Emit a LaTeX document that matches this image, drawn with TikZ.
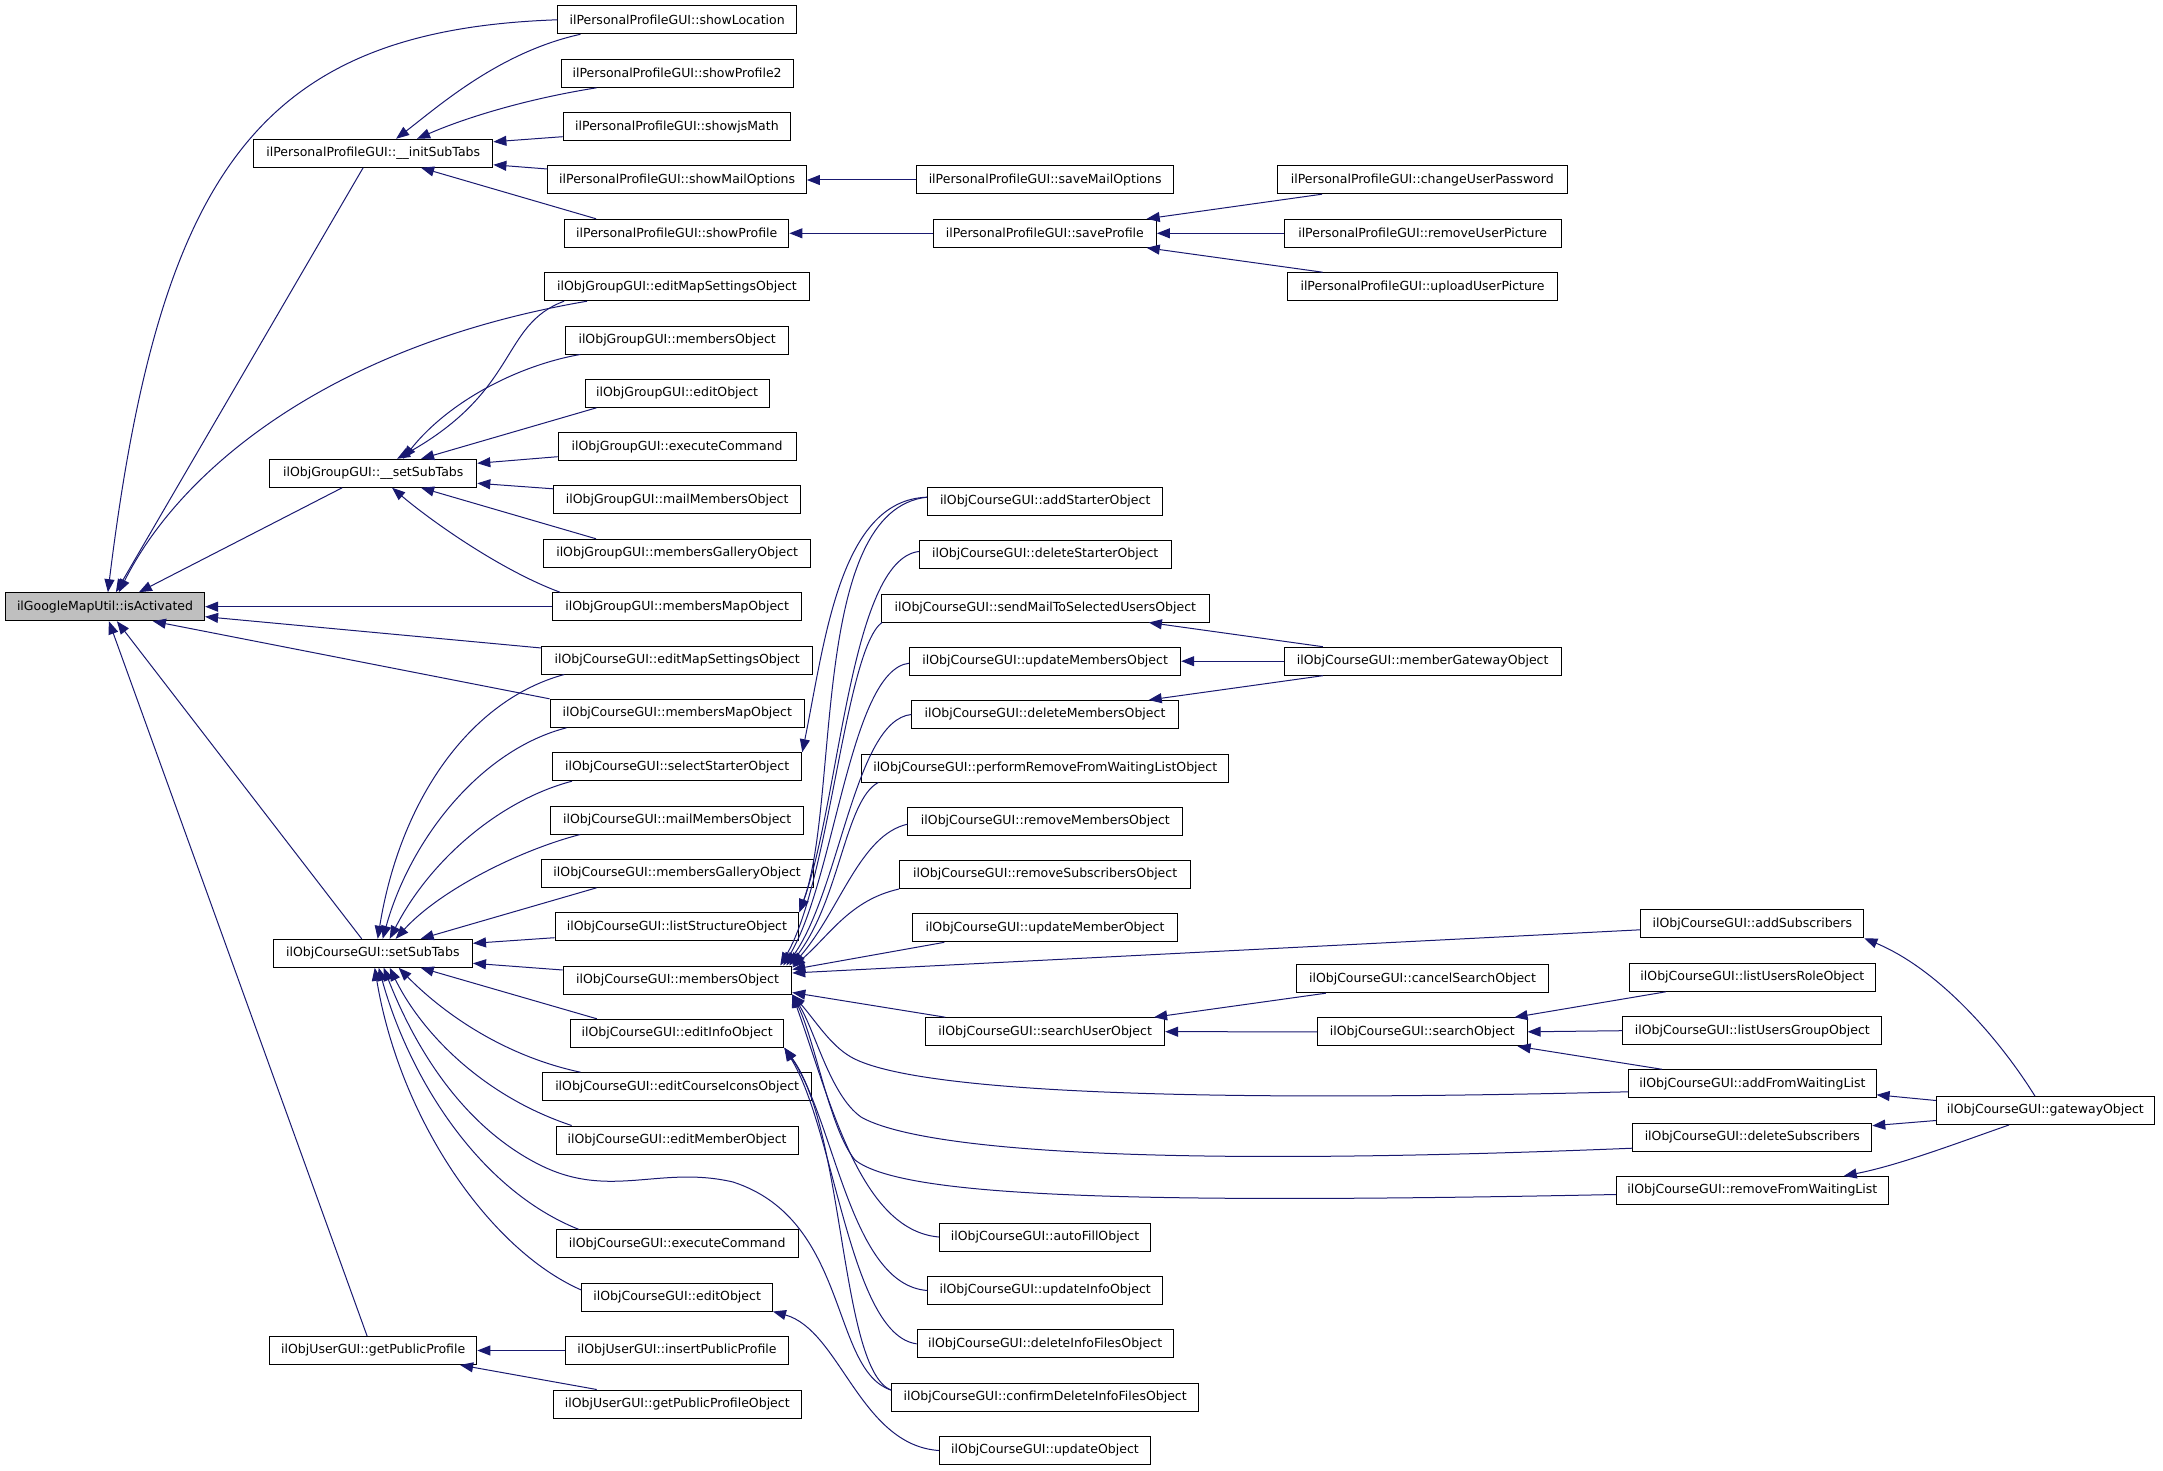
\documentclass[tikz,border=0pt]{standalone}
\usepackage{fontspec}
\setmainfont{DejaVu Sans}
\usepackage{tikz}
\usetikzlibrary{arrows.meta}
\definecolor{border}{HTML}{000000}
\definecolor{edgeblue}{HTML}{191970}
\definecolor{rootgray}{HTML}{BFBFBF}
\newcommand{\Func}[5]{%
  \node[func, minimum width={#3pt-#2pt}] (#1) at ({(#2+#3)/2},#4) {#5};
}

\begin{document}
\begin{tikzpicture}[x=1pt, y=-1pt,
  func/.style={draw=border, line width=1pt, fill=white, minimum height=28pt,
    inner sep=0pt, font=\fontsize{12.5}{15}\selectfont},
  call/.style={edgeblue, line width=1pt, -{Triangle[length=13pt, width=10pt]}}]
  \useasboundingbox (0,0) rectangle (2163,1471);

  % root
  \node[func, fill=rootgray, minimum width=199.2pt] (isAct) at (105,606.7) {ilGoogleMapUtil::isActivated};

  % second column
  \Func{initTabs}{253.6}{492.9}{153.3}{ilPersonalProfileGUI::\_\_initSubTabs}
  \Func{gTabs}{269.6}{476.8}{473.3}{ilObjGroupGUI::\_\_setSubTabs}
  \Func{cTabs}{273.2}{472.5}{953.3}{ilObjCourseGUI::setSubTabs}
  \Func{pubProf}{269.6}{476.8}{1350.5}{ilObjUserGUI::getPublicProfile}

  % third column
  \Func{showLoc}{557.9}{796.4}{19.8}{ilPersonalProfileGUI::showLocation}
  \Func{showProf2}{561.1}{793.2}{73.3}{ilPersonalProfileGUI::showProfile2}
  \Func{showJs}{563.2}{790.7}{126.7}{ilPersonalProfileGUI::showjsMath}
  \Func{showMail}{547.9}{806.4}{180}{ilPersonalProfileGUI::showMailOptions}
  \Func{showProf}{564.6}{788.9}{233.3}{ilPersonalProfileGUI::showProfile}
  \Func{gMapSet}{544.6}{809.3}{286.7}{ilObjGroupGUI::editMapSettingsObject}
  \Func{gMembers}{565.7}{788.6}{340}{ilObjGroupGUI::membersObject}
  \Func{gEdit}{585}{769.3}{393.3}{ilObjGroupGUI::editObject}
  \Func{gExec}{558.2}{796.1}{446.7}{ilObjGroupGUI::executeCommand}
  \Func{gMail}{553.6}{800.7}{499.8}{ilObjGroupGUI::mailMembersObject}
  \Func{gGallery}{543.6}{810.7}{553.3}{ilObjGroupGUI::membersGalleryObject}
  \Func{gMap}{552.5}{801.8}{606.7}{ilObjGroupGUI::membersMapObject}
  \Func{cMapSet}{541.8}{812.5}{660}{ilObjCourseGUI::editMapSettingsObject}
  \Func{cMap}{550}{804.6}{713.3}{ilObjCourseGUI::membersMapObject}
  \Func{selStart}{552.5}{801.8}{766.7}{ilObjCourseGUI::selectStarterObject}
  \Func{cMail}{550.7}{803.6}{820}{ilObjCourseGUI::mailMembersObject}
  \Func{cGallery}{541.1}{813.2}{873.3}{ilObjCourseGUI::membersGalleryObject}
  \Func{listStruct}{555}{798.9}{926.7}{ilObjCourseGUI::listStructureObject}
  \Func{cMembers}{563.2}{791.8}{980}{ilObjCourseGUI::membersObject}
  \Func{editInfo}{570.4}{783.9}{1033.3}{ilObjCourseGUI::editInfoObject}
  \Func{editIcons}{542.9}{811.4}{1086.7}{ilObjCourseGUI::editCourseIconsObject}
  \Func{editMember}{556.1}{798.2}{1140}{ilObjCourseGUI::editMemberObject}
  \Func{cExec}{556.1}{798.2}{1243.8}{ilObjCourseGUI::executeCommand}
  \Func{cEdit}{581.8}{772.5}{1297}{ilObjCourseGUI::editObject}
  \Func{insPub}{565.7}{788.2}{1350.5}{ilObjUserGUI::insertPublicProfile}
  \Func{getPubObj}{553.2}{801.4}{1404}{ilObjUserGUI::getPublicProfileObject}

  % fourth column
  \Func{saveMail}{916.4}{1173.9}{180}{ilPersonalProfileGUI::saveMailOptions}
  \Func{saveProf}{933.2}{1156.4}{233.3}{ilPersonalProfileGUI::saveProfile}
  \Func{addStart}{927.5}{1162.9}{501.2}{ilObjCourseGUI::addStarterObject}
  \Func{delStart}{919.3}{1171.1}{554.5}{ilObjCourseGUI::deleteStarterObject}
  \Func{sendMail}{881.4}{1209.3}{608}{ilObjCourseGUI::sendMailToSelectedUsersObject}
  \Func{updMembers}{909.6}{1180.7}{661.2}{ilObjCourseGUI::updateMembersObject}
  \Func{delMembers}{911.8}{1178.2}{714.5}{ilObjCourseGUI::deleteMembersObject}
  \Func{perfRemove}{861.8}{1228.6}{768}{ilObjCourseGUI::performRemoveFromWaitingListObject}
  \Func{rmMembers}{907.9}{1182.9}{821.2}{ilObjCourseGUI::removeMembersObject}
  \Func{rmSubs}{899.6}{1190.7}{874.5}{ilObjCourseGUI::removeSubscribersObject}
  \Func{updMember}{912.9}{1177.1}{927.8}{ilObjCourseGUI::updateMemberObject}
  \Func{searchUser}{925.7}{1164.6}{1031.7}{ilObjCourseGUI::searchUserObject}
  \Func{autoFill}{939.3}{1150.7}{1237}{ilObjCourseGUI::autoFillObject}
  \Func{updInfo}{927.9}{1162.5}{1290.5}{ilObjCourseGUI::updateInfoObject}
  \Func{delInfo}{917.1}{1173.2}{1343.8}{ilObjCourseGUI::deleteInfoFilesObject}
  \Func{confDel}{891.8}{1198.6}{1397.2}{ilObjCourseGUI::confirmDeleteInfoFilesObject}
  \Func{updObj}{939.3}{1150.7}{1450.5}{ilObjCourseGUI::updateObject}

  % fifth column
  \Func{chgPwd}{1277.5}{1567.1}{179.7}{ilPersonalProfileGUI::changeUserPassword}
  \Func{rmPic}{1284.3}{1561.1}{233.3}{ilPersonalProfileGUI::removeUserPicture}
  \Func{upPic}{1287.1}{1557.9}{286.7}{ilPersonalProfileGUI::uploadUserPicture}
  \Func{memGate}{1284.3}{1561.1}{661.2}{ilObjCourseGUI::memberGatewayObject}
  \Func{cancelSearch}{1296.4}{1548.6}{978.7}{ilObjCourseGUI::cancelSearchObject}
  \Func{searchObj}{1317.5}{1527.1}{1031.8}{ilObjCourseGUI::searchObject}

  % sixth and seventh column
  \Func{addSubs}{1640.7}{1863.9}{923.8}{ilObjCourseGUI::addSubscribers}
  \Func{listRole}{1629.3}{1875.4}{977.3}{ilObjCourseGUI::listUsersRoleObject}
  \Func{listGroup}{1622.9}{1881.8}{1030.7}{ilObjCourseGUI::listUsersGroupObject}
  \Func{addWait}{1628.6}{1876.1}{1083.8}{ilObjCourseGUI::addFromWaitingList}
  \Func{delSubs}{1632.9}{1871.8}{1137.2}{ilObjCourseGUI::deleteSubscribers}
  \Func{rmWait}{1616.4}{1888.2}{1190.5}{ilObjCourseGUI::removeFromWaitingList}
  \Func{gateway}{1936.4}{2154.3}{1110.5}{ilObjCourseGUI::gatewayObject}

  % into isActivated
  \draw[call] (showLoc.west) .. controls (260,30) and (160,170) .. ([xshift=103pt]isAct.north west);
  \draw[call] ([xshift=110pt]initTabs.south west) -- ([xshift=111pt]isAct.north west);
  \draw[call] ([xshift=43pt]gMapSet.south west) .. controls (330,345) and (180,470) .. ([xshift=114pt]isAct.north west);
  \draw[call] ([xshift=73pt]gTabs.south west) -- ([xshift=134pt]isAct.north west);
  \draw[call] (gMap.west) -- (isAct.east);
  \draw[call] ([yshift=12pt]cMapSet.west) -- ([yshift=-10pt]isAct.east);
  \draw[call] (cMap.north west) -- ([xshift=148pt]isAct.south west);
  \draw[call] ([xshift=89pt]cTabs.north west) -- ([xshift=112pt]isAct.south west);
  \draw[call] ([xshift=98pt]pubProf.north west) -- ([xshift=104pt]isAct.south west);

  % into __initSubTabs
  \draw[call] ([xshift=23pt]showLoc.south west) .. controls (500,52) and (440,105) .. ([xshift=143pt]initTabs.north west);
  \draw[call] ([xshift=36pt]showProf2.south west) .. controls (520,100) and (460,120) .. ([xshift=164pt]initTabs.north west);
  \draw[call] ([yshift=-10pt]showJs.west) -- ([yshift=11.5pt]initTabs.east);
  \draw[call] ([yshift=11pt]showMail.west) -- ([yshift=-11.5pt]initTabs.east);
  \draw[call] ([xshift=32pt]showProf.north west) -- ([xshift=168pt]initTabs.south west);
  \draw[call] (saveMail.west) -- (showMail.east);
  \draw[call] (saveProf.west) -- (showProf.east);
  \draw[call] ([xshift=45pt]chgPwd.south west) -- ([xshift=214pt]saveProf.north west);
  \draw[call] (rmPic.west) -- (saveProf.east);
  \draw[call] ([xshift=36pt]upPic.north west) -- ([xshift=214pt]saveProf.south west);

  % into group __setSubTabs
  \draw[call] ([xshift=20pt]gMapSet.south west) .. controls (500,325) and (520,390) .. ([xshift=128pt]gTabs.north west);
  \draw[call] ([xshift=15pt]gMembers.south west) .. controls (520,365) and (450,400) .. ([xshift=134pt]gTabs.north west);
  \draw[call] ([xshift=12pt]gEdit.south west) -- ([xshift=152pt]gTabs.north west);
  \draw[call] ([yshift=-10pt]gExec.west) -- ([yshift=10pt]gTabs.east);
  \draw[call] ([yshift=11pt]gMail.west) -- ([yshift=-10pt]gTabs.east);
  \draw[call] ([xshift=53pt]gGallery.north west) -- ([xshift=152pt]gTabs.south west);
  \draw[call] ([xshift=8pt]gMap.north west) .. controls (500,570) and (430,520) .. ([xshift=123pt]gTabs.south west);

  % into course setSubTabs
  \draw[call] ([xshift=23pt]cMapSet.south west) .. controls (470,700) and (400,800) .. ([xshift=105pt]cTabs.north west);
  \draw[call] ([xshift=17pt]cMap.south west) .. controls (480,750) and (410,840) .. ([xshift=110pt]cTabs.north west);
  \draw[call] ([xshift=20pt]selStart.south west) .. controls (500,800) and (430,860) .. ([xshift=117pt]cTabs.north west);
  \draw[call] ([xshift=30pt]cMail.south west) .. controls (520,850) and (440,890) .. ([xshift=123pt]cTabs.north west);
  \draw[call] ([xshift=56pt]cGallery.south west) -- ([xshift=148pt]cTabs.north west);
  \draw[call] ([yshift=-11pt]listStruct.west) -- ([yshift=10pt]cTabs.east);
  \draw[call] ([yshift=10pt]cMembers.west) -- ([yshift=-10pt]cTabs.east);
  \draw[call] ([xshift=27pt]editInfo.north west) -- ([xshift=148pt]cTabs.south west);
  \draw[call] ([xshift=38pt]editIcons.north west) .. controls (500,1055) and (440,1010) .. ([xshift=126pt]cTabs.south west);
  \draw[call] ([xshift=16pt]editMember.north west) .. controls (480,1095) and (420,1030) .. ([xshift=117pt]cTabs.south west);
  \draw[call] ([yshift=7pt]confDel.west) .. controls (830,1370) and (850,1220) .. (733,1182)
    .. controls (660,1165) and (610,1200) .. (540,1165)
    .. controls (470,1130) and (420,1060) .. ([xshift=111pt]cTabs.south west);
  \draw[call] ([xshift=23pt]cExec.north west) .. controls (480,1190) and (410,1080) .. ([xshift=106pt]cTabs.south west);
  \draw[call] ([yshift=7pt]cEdit.west) .. controls (490,1250) and (400,1120) .. ([xshift=102pt]cTabs.south west);

  % into getPublicProfile
  \draw[call] (insPub.west) -- (pubProf.east);
  \draw[call] ([xshift=44pt]getPubObj.north west) -- ([xshift=191pt]pubProf.south west);

  % starter objects
  \draw[call] ([yshift=4pt]addStart.west) .. controls (840,500) and (825,640) .. (selStart.north east);
  \draw[call] ([yshift=4pt]addStart.west) .. controls (810,510) and (840,800) .. (listStruct.north east);
  \draw[call] ([yshift=3pt]delStart.west) .. controls (850,560) and (840,800) .. (listStruct.north east);

  % into course membersObject
  \draw[call] ([xshift=1pt]sendMail.south west) .. controls (845,650) and (830,880) .. ([xshift=-12pt]cMembers.north east);
  \draw[call] ([yshift=-2pt]updMembers.west) .. controls (850,670) and (835,880) .. ([xshift=-9pt]cMembers.north east);
  \draw[call] (delMembers.west) .. controls (855,720) and (840,890) .. ([xshift=-6pt]cMembers.north east);
  \draw[call] ([xshift=17pt]perfRemove.south west) .. controls (845,800) and (840,900) .. ([xshift=-3pt]cMembers.north east);
  \draw[call] ([yshift=-3pt]rmMembers.west) .. controls (860,835) and (840,910) .. (cMembers.north east);
  \draw[call] (rmSubs.south west) .. controls (850,900) and (830,935) .. ([yshift=-2pt]cMembers.north east);
  \draw[call] ([xshift=32pt]updMember.south west) -- ([yshift=-4pt]cMembers.north east);
  \draw[call] ([yshift=-6pt]addSubs.west) -- ([yshift=7pt]cMembers.east);
  \draw[call] ([xshift=20pt]searchUser.north west) -- ([yshift=2pt]cMembers.south east);
  \draw[call] ([yshift=-8pt]addWait.west) .. controls (1100,1105) and (900,1085) .. (851,1057)
    .. controls (830,1045) and (815,1020) .. (cMembers.south east);
  \draw[call] ([yshift=-11pt]delSubs.west) .. controls (1100,1170) and (910,1145) .. (861,1117)
    .. controls (830,1095) and (815,1030) .. (cMembers.south east);
  \draw[call] ([yshift=-4pt]rmWait.west) .. controls (1100,1205) and (900,1195) .. (855,1160)
    .. controls (830,1130) and (815,1040) .. (cMembers.south east);
  \draw[call] (autoFill.west) .. controls (860,1230) and (830,1100) .. (cMembers.south east);

  % into editInfoObject and editObject
  \draw[call] (updInfo.west) .. controls (850,1285) and (835,1120) .. (editInfo.south east);
  \draw[call] (delInfo.west) .. controls (850,1335) and (835,1130) .. (editInfo.south east);
  \draw[call] ([yshift=7pt]confDel.west) .. controls (840,1370) and (845,1130) .. (editInfo.south east);
  \draw[call] (updObj.west) .. controls (860,1445) and (840,1330) .. (cEdit.south east);

  % member gateway
  \draw[call] ([xshift=39pt]memGate.north west) -- ([xshift=-61pt]sendMail.south east);
  \draw[call] (memGate.west) -- (updMembers.east);
  \draw[call] ([xshift=39pt]memGate.south west) -- ([xshift=-30pt]delMembers.north east);

  % search
  \draw[call] (searchObj.west) -- (searchUser.east);
  \draw[call] ([xshift=30pt]cancelSearch.south west) -- ([xshift=-11pt]searchUser.north east);
  \draw[call] ([xshift=37pt]listRole.south west) -- ([xshift=-13pt]searchObj.north east);
  \draw[call] (listGroup.west) -- (searchObj.east);
  \draw[call] ([xshift=34pt]addWait.north west) -- ([xshift=-10pt]searchObj.south east);

  % gateway
  \draw[call] ([xshift=99pt]gateway.north west) .. controls (2000,1040) and (1940,970) .. (addSubs.south east);
  \draw[call] ([yshift=10pt]gateway.west) -- ([yshift=-11pt]addWait.east);
  \draw[call] ([yshift=-10pt]gateway.west) -- ([yshift=11.5pt]delSubs.east);
  \draw[call] ([xshift=73pt]gateway.south west) .. controls (1960,1142) and (1900,1165) .. ([xshift=-45pt]rmWait.north east);
\end{tikzpicture}
\end{document}
